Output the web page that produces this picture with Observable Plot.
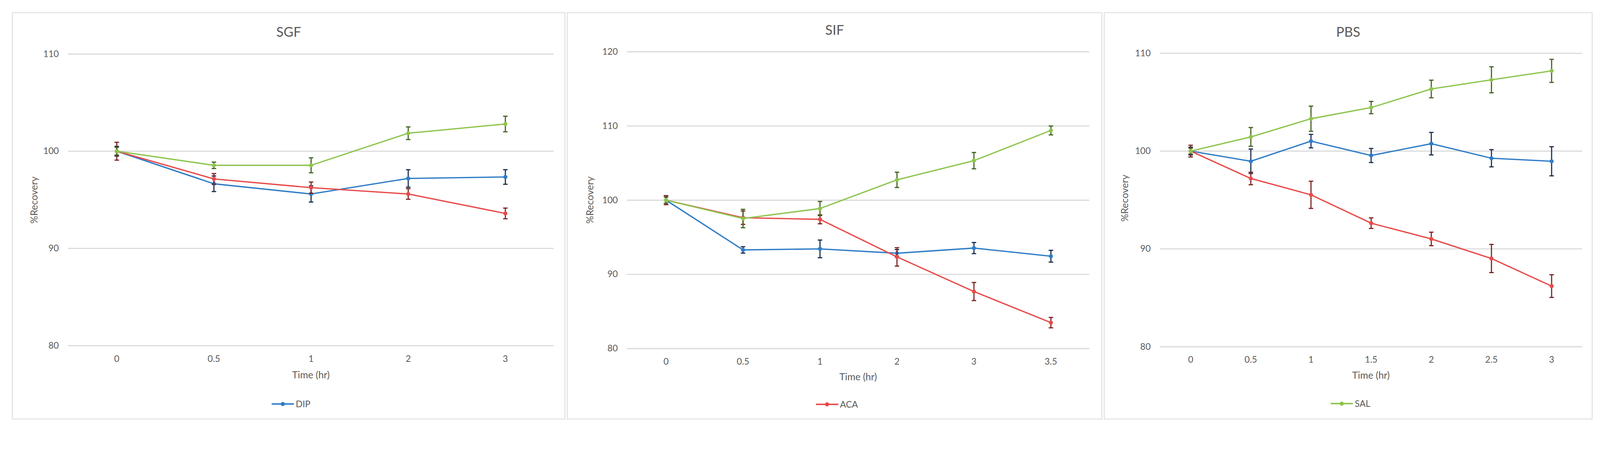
<!DOCTYPE html>
<html><head><meta charset="utf-8">
<script src="https://cdn.jsdelivr.net/npm/d3@7"></script>
<script src="https://cdn.jsdelivr.net/npm/@observablehq/plot@0.6"></script>
<style>
html,body{margin:0;padding:0;background:#fff;overflow:hidden;font-family:Lato,"Open Sans",sans-serif;}
#root{position:absolute;left:0;top:0;width:4282px;height:1154px;overflow:hidden;background:#fff;transform-origin:0 0;}
.panel{position:absolute;}
.panel > svg{position:absolute;left:0;top:0;}
.frame{position:absolute;left:0;top:0;right:0;bottom:0;border:2px solid #d9d9d9;box-sizing:border-box;pointer-events:none;}
.lbl{position:absolute;transform:translate(-50%,-50%);white-space:nowrap;color:#595959;line-height:1.2;}
.ylbl{position:absolute;transform:translate(-50%,-50%) rotate(-90deg);white-space:nowrap;color:#595959;font-size:26px;line-height:1.2;}
.legend{display:flex;align-items:center;gap:5px;font-size:24px;}
.legend svg{display:block;}
</style></head>
<body><div id="root"></div>
<script>
// ---------- data ----------
const seriesNames = ["DIP", "ACA", "SAL"];
const seriesColors = ["#2F7CC6", "#E84A4A", "#8DC44E"];
const errorColors = ["#1A2B4C", "#7B2020", "#40601E"];

const panelTitles = ["SGF", "SIF", "PBS"];
const legendSeries = ["DIP", "ACA", "SAL"];

const sgfTime = ["0", "0.5", "1", "2", "3"];
const sgfDIP = [100, 96.65, 95.6, 97.2, 97.35];
const sgfDIPErr = [0.5, 0.8, 0.83, 0.9, 0.75];
const sgfACA = [100, 97.15, 96.25, 95.6, 93.6];
const sgfACAErr = [0.92, 0.55, 0.58, 0.55, 0.55];
const sgfSAL = [100, 98.55, 98.55, 101.85, 102.8];
const sgfSALErr = [0.4, 0.33, 0.77, 0.65, 0.8];
const sgfTicks = [80, 90, 100, 110];

const sifTime = ["0", "0.5", "1", "2", "3", "3.5"];
const sifDIP = [100, 93.3, 93.44, 92.85, 93.55, 92.45];
const sifDIPErr = [0.6, 0.43, 1.19, 0.5, 0.75, 0.8];
const sifACA = [100, 97.64, 97.42, 92.36, 87.69, 83.5];
const sifACAErr = [0.6, 0.9, 0.6, 1.24, 1.22, 0.7];
const sifSAL = [100, 97.53, 98.88, 102.74, 105.33, 109.4];
const sifSALErr = [0.4, 1.24, 0.95, 1.03, 1.1, 0.6];
const sifTicks = [80, 90, 100, 110, 120];

const pbsTime = ["0", "0.5", "1", "1.5", "2", "2.5", "3"];
const pbsDIP = [100, 98.96, 101.02, 99.55, 100.76, 99.27, 98.96];
const pbsDIPErr = [0.4, 1.25, 0.69, 0.72, 1.15, 0.88, 1.49];
const pbsACA = [100, 97.2, 95.53, 92.63, 91.02, 89.02, 86.2];
const pbsACAErr = [0.6, 0.64, 1.39, 0.54, 0.69, 1.44, 1.16];
const pbsSAL = [100, 101.45, 103.31, 104.45, 106.35, 107.29, 108.2];
const pbsSALErr = [0.3, 0.96, 1.29, 0.63, 0.9, 1.33, 1.18];
const pbsTicks = [80, 90, 100, 110];

// ---------- helpers ----------
function rows(times, vals, errs, name) {
  return times.map((t, i) => ({t, v: vals[i], e: errs[i], s: name}));
}
const capSymbol = {
  draw(ctx, size) {
    const w = Math.sqrt(size / Math.PI);
    ctx.moveTo(-w, 0);
    ctx.lineTo(w, 0);
  }
};

const panels = [
  {title: panelTitles[0], times: sgfTime, legend: legendSeries[0], ticks: sgfTicks, domain: [80, 110],
   series: [rows(sgfTime, sgfDIP, sgfDIPErr, "DIP"), rows(sgfTime, sgfACA, sgfACAErr, "ACA"), rows(sgfTime, sgfSAL, sgfSALErr, "SAL")],
   box: {left: 32, top: 33, width: 1481, height: 1089}, m: {l: 150, r: 31, t: 111, b: 198},
   titleY: 52, yLblX: 59, yLblY: 502, xLblY: 970, legY: 1048},
  {title: panelTitles[1], times: sifTime, legend: legendSeries[1], ticks: sifTicks, domain: [80, 120],
   series: [rows(sifTime, sifDIP, sifDIPErr, "DIP"), rows(sifTime, sifACA, sifACAErr, "ACA"), rows(sifTime, sifSAL, sifSALErr, "SAL")],
   box: {left: 1517, top: 33, width: 1433, height: 1089}, m: {l: 161, r: 35, t: 105, b: 190},
   titleY: 47, yLblX: 62, yLblY: 502, xLblY: 975, legY: 1049},
  {title: panelTitles[2], times: pbsTime, legend: legendSeries[2], ticks: pbsTicks, domain: [80, 110],
   series: [rows(pbsTime, pbsDIP, pbsDIPErr, "DIP"), rows(pbsTime, pbsACA, pbsACAErr, "ACA"), rows(pbsTime, pbsSAL, pbsSALErr, "SAL")],
   box: {left: 2954, top: 33, width: 1308, height: 1089}, m: {l: 150, r: 28, t: 109, b: 195},
   titleY: 52, yLblX: 56, yLblY: 497, xLblY: 971, legY: 1047}
];

const root = document.getElementById("root");
function fit() {
  const s = Math.min(window.innerWidth / 4282, window.innerHeight / 1154) || 1;
  root.style.transform = `scale(${s})`;
}
fit();
window.addEventListener("resize", fit);

for (const p of panels) {
  const div = document.createElement("div");
  div.className = "panel";
  Object.assign(div.style, {left: p.box.left + "px", top: p.box.top + "px", width: p.box.width + "px", height: p.box.height + "px"});

  const marks = [
    Plot.ruleY(p.ticks, {stroke: "#d9d9d9", strokeWidth: 3}),
    Plot.axisY({ticks: p.ticks, tickSize: 0, tickPadding: 25, fontSize: 24, label: null, fill: "#595959"}),
    Plot.axisX({tickSize: 0, tickPadding: 26, fontSize: 24, label: null, fill: "#595959"})
  ];
  p.series.forEach((data, i) => {
    const c = seriesColors[i], ec = errorColors[i];
    marks.push(
      Plot.line(data, {x: "t", y: "v", stroke: c, strokeWidth: 3.5}),
      Plot.ruleX(data, {x: "t", y1: d => d.v - d.e, y2: d => d.v + d.e, stroke: ec, strokeWidth: 3}),
      Plot.dot(data, {x: "t", y: d => d.v - d.e, symbol: capSymbol, r: 6, stroke: ec, strokeWidth: 3, fill: "none"}),
      Plot.dot(data, {x: "t", y: d => d.v + d.e, symbol: capSymbol, r: 6, stroke: ec, strokeWidth: 3, fill: "none"}),
      Plot.dot(data, {x: "t", y: "v", r: 5.5, fill: c, stroke: "none"})
    );
  });

  const chart = Plot.plot({
    width: p.box.width,
    height: p.box.height,
    marginLeft: p.m.l, marginRight: p.m.r, marginTop: p.m.t, marginBottom: p.m.b,
    style: {background: "transparent", fontFamily: "Lato, 'Open Sans', sans-serif", fontSize: "24px", color: "#595959", overflow: "visible"},
    x: {type: "point", domain: p.times, padding: 0.5},
    y: {domain: p.domain},
    marks
  });
  div.appendChild(chart);

  const frame = document.createElement("div");
  frame.className = "frame";
  div.appendChild(frame);

  const title = document.createElement("div");
  title.className = "lbl";
  title.textContent = p.title;
  Object.assign(title.style, {left: (p.box.width / 2) + "px", top: p.titleY + "px", fontSize: "36px"});
  div.appendChild(title);

  const ylbl = document.createElement("div");
  ylbl.className = "ylbl";
  ylbl.textContent = "%Recovery";
  Object.assign(ylbl.style, {left: p.yLblX + "px", top: p.yLblY + "px"});
  div.appendChild(ylbl);

  const xlbl = document.createElement("div");
  xlbl.className = "lbl";
  xlbl.textContent = "Time (hr)";
  Object.assign(xlbl.style, {left: ((p.m.l + p.box.width - p.m.r) / 2) + "px", top: p.xLblY + "px", fontSize: "26px"});
  div.appendChild(xlbl);

  const si = seriesNames.indexOf(p.legend);
  const leg = document.createElement("div");
  leg.className = "lbl legend";
  leg.innerHTML = `<svg width="60" height="14"><line x1="0" y1="7" x2="60" y2="7" stroke="${seriesColors[si]}" stroke-width="4"/><circle cx="30" cy="7" r="5.5" fill="${seriesColors[si]}"/></svg><span>${p.legend}</span>`;
  Object.assign(leg.style, {left: (p.box.width / 2 + 6) + "px", top: p.legY + "px"});
  div.appendChild(leg);

  root.appendChild(div);
}
</script>
</body></html>
